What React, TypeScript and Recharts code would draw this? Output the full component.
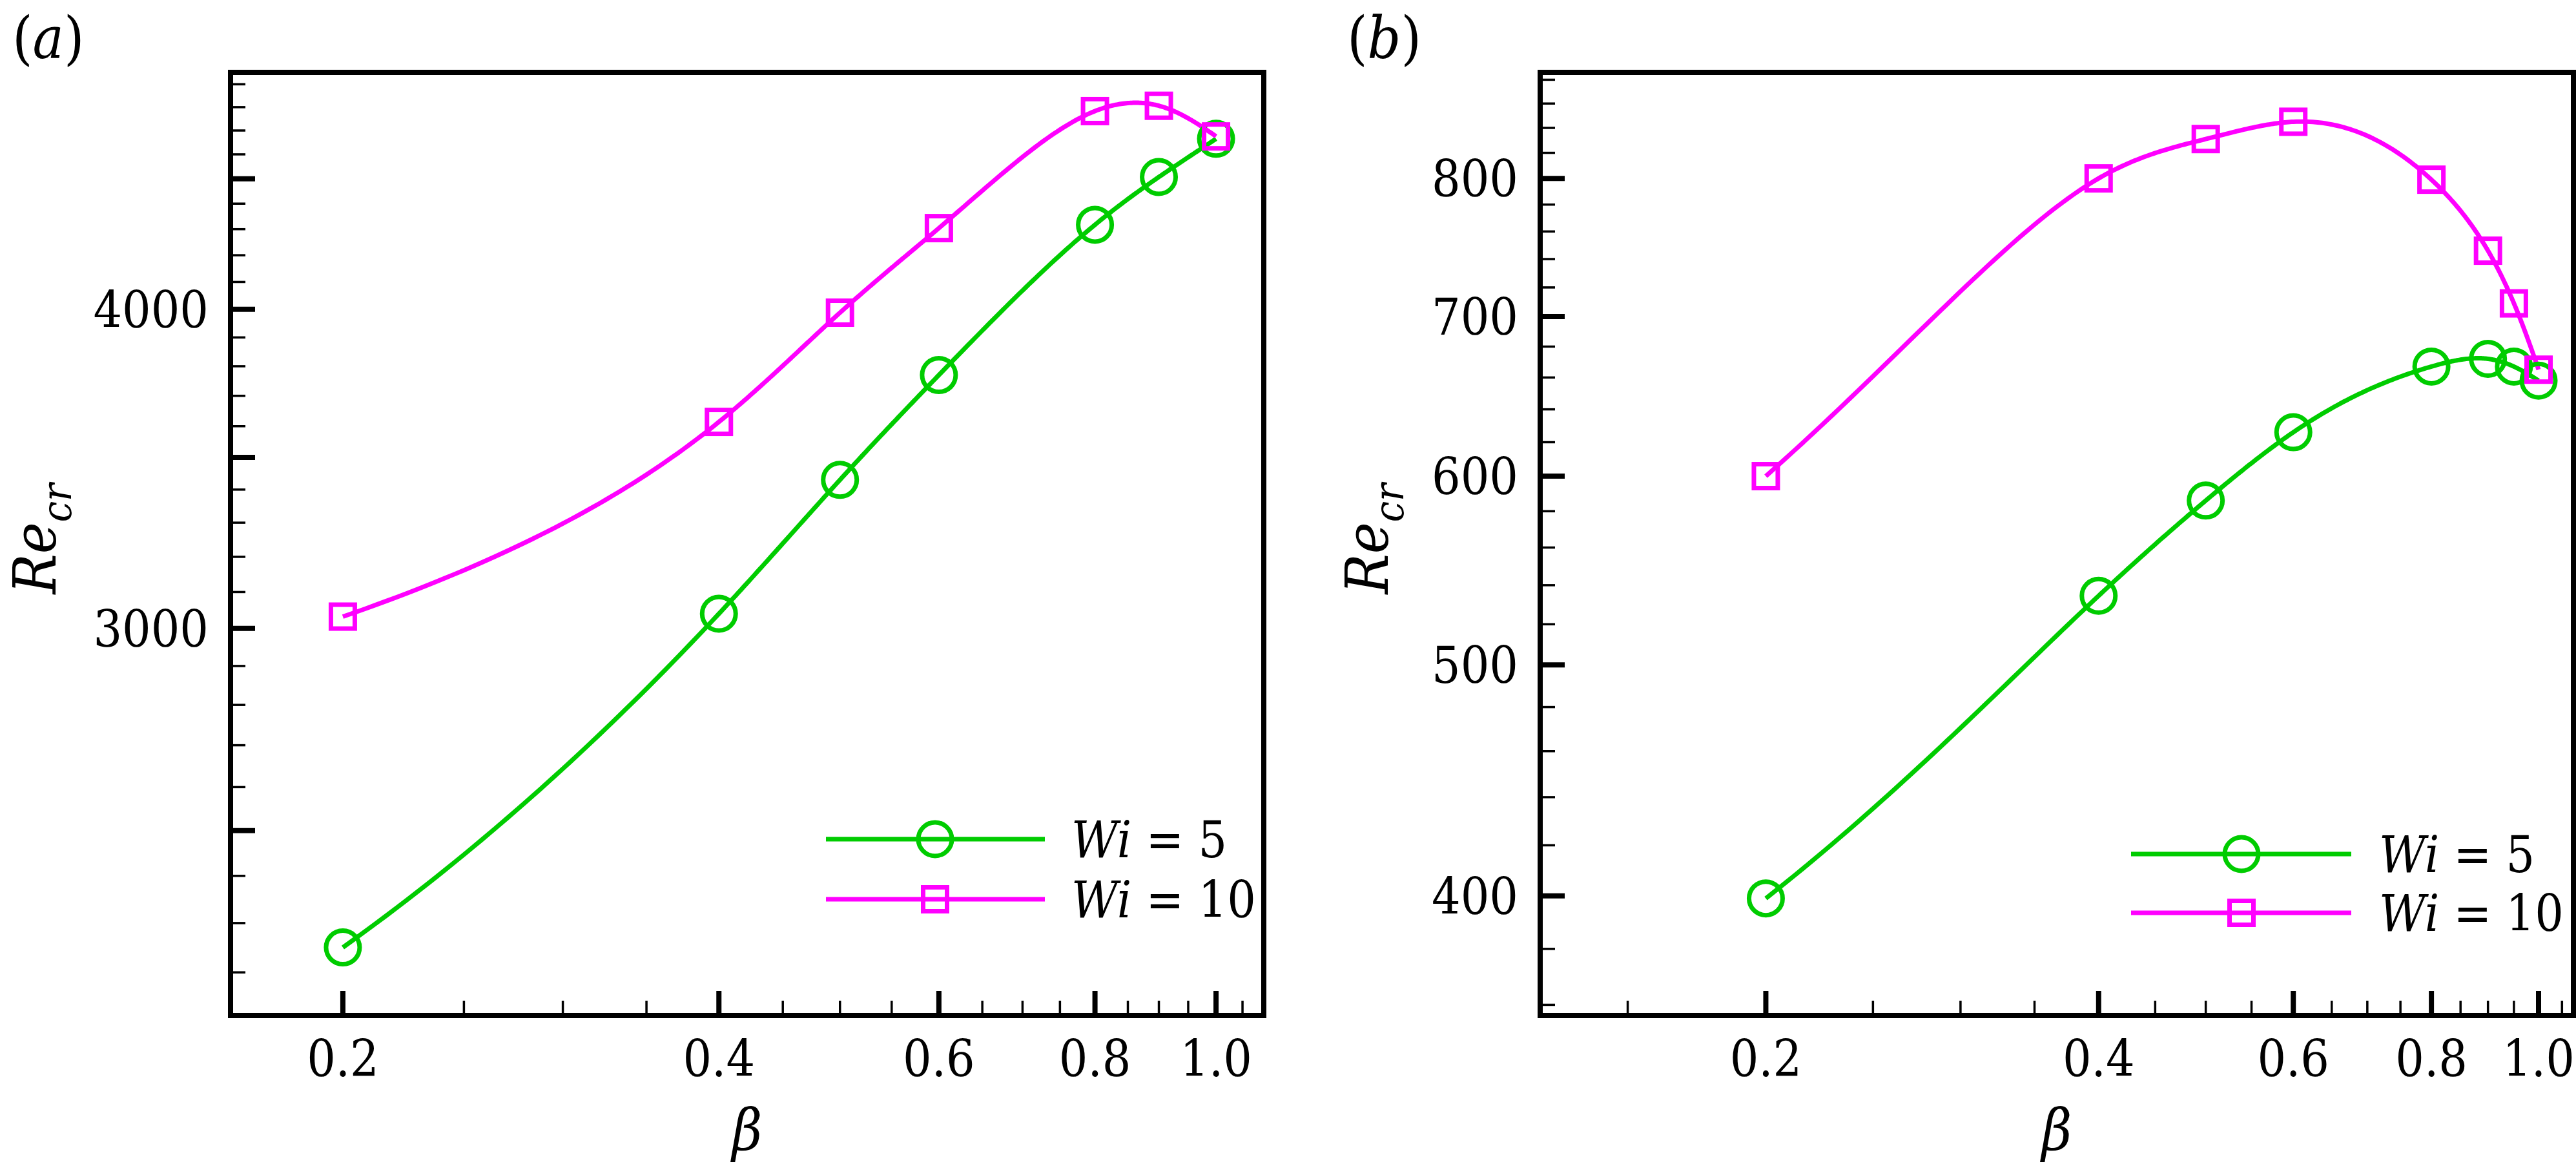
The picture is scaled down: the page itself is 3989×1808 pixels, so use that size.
import { ComposedChart, Line, XAxis, YAxis } from 'recharts'

// (a) Re_cr vs beta
const betaA = [0.2, 0.4, 0.5, 0.6, 0.8, 0.9, 1.0]
const reWi5A = [2250, 3040, 3430, 3770, 4317, 4507, 4665]
const reWi10A = [3032, 3614, 3988, 4304, 4783, 4806, 4675]

// (b) Re_cr vs beta
const betaB = [0.2, 0.4, 0.5, 0.6, 0.8, 0.9, 0.95, 1.0]
const reWi5B = [399, 534.5, 586, 626, 667, 672, 667, 658]
const reWi10B = [600, 800, 831, 845, 799, 746, 709, 665]

// ticks
const betaMajor = [0.2, 0.4, 0.6, 0.8, 1.0]
const betaMinorA = [0.25, 0.3, 0.35, 0.45, 0.5, 0.55, 0.65, 0.7, 0.75, 0.85, 0.9, 0.95, 1.05]
const betaMinorB = [0.15, 0.25, 0.3, 0.35, 0.45, 0.5, 0.55, 0.65, 0.7, 0.75, 0.85, 0.9, 0.95, 1.05]
const reMajorA = [2500, 3000, 3500, 4000, 4500]
const reLabelsA = [3000, 4000]
const reMinorA = [
  2200, 2300, 2400, 2600, 2700, 2800, 2900, 3100, 3200, 3300, 3400, 3600, 3700, 3800, 3900, 4100, 4200,
  4300, 4400, 4600, 4700, 4800, 4900,
]
const reMajorB = [400, 500, 600, 700, 800]
const reLabelsB = [400, 500, 600, 700, 800]
const reMinorB = [
  360, 380, 420, 440, 460, 480, 520, 540, 560, 580, 620, 640, 660, 680, 720, 740, 760, 780, 820, 840, 860, 880,
]

const GREEN = '#00cc00'
const MAGENTA = '#ff00ff'
const H = 1808
// only serif face available here is DejaVu; condensed is closest to Times widths
const TXT = { fontFamily: "'DejaVu Serif Condensed', 'DejaVu Serif', serif", fontStretch: 'condensed' }

const frame = { stroke: '#000', strokeWidth: 8, strokeLinecap: 'square' }

const near = (list: number[], v: number) => list.some((m) => Math.abs(m - v) < 1e-6 * m)

// natural cubic spline taken in linear data units, drawn on the log axes
// (kx, ky = pixels per decade, so pixel -> data is known up to a constant factor)
function splineInData(kx: number, ky: number) {
  return (context: any) => {
    let px: number[] = []
    let py: number[] = []
    return {
      areaStart() {},
      areaEnd() {},
      lineStart() {
        px = []
        py = []
      },
      point(x: number, y: number) {
        px.push(x)
        py.push(y)
      },
      lineEnd() {
        const n = px.length
        if (!n) return
        const X = px.map((v) => Math.pow(10, v / kx))
        const Y = py.map((v) => Math.pow(10, -v / ky))
        const M = new Array(n).fill(0)
        if (n > 2) {
          const a: number[] = [], b: number[] = [], c: number[] = [], d: number[] = []
          for (let i = 1; i < n - 1; i++) {
            const h0 = X[i] - X[i - 1]
            const h1 = X[i + 1] - X[i]
            a.push(h0)
            b.push(2 * (h0 + h1))
            c.push(h1)
            d.push(6 * ((Y[i + 1] - Y[i]) / h1 - (Y[i] - Y[i - 1]) / h0))
          }
          const m = b.length
          for (let i = 1; i < m; i++) {
            const w = a[i] / b[i - 1]
            b[i] -= w * c[i - 1]
            d[i] -= w * d[i - 1]
          }
          const sol = new Array(m).fill(0)
          sol[m - 1] = d[m - 1] / b[m - 1]
          for (let i = m - 2; i >= 0; i--) sol[i] = (d[i] - c[i] * sol[i + 1]) / b[i]
          for (let i = 0; i < m; i++) M[i + 1] = sol[i]
        }
        context.moveTo(px[0], py[0])
        for (let i = 0; i < n - 1; i++) {
          const h = X[i + 1] - X[i]
          const steps = 48
          for (let s = 1; s <= steps; s++) {
            const t = X[i] + (h * s) / steps
            const u = (X[i + 1] - t) / h
            const w = (t - X[i]) / h
            const v = u * Y[i] + w * Y[i + 1] + (((u * u * u - u) * M[i] + (w * w * w - w) * M[i + 1]) * h * h) / 6
            context.lineTo(kx * Math.log10(t), -ky * Math.log10(v))
          }
        }
      },
    }
  }
}

function XTick(props: any) {
  const { x, y, payload } = props
  const v = payload.value
  const major = near(betaMajor, v)
  return (
    <g>
      <line x1={x} y1={y} x2={x} y2={y - (major ? 38 : 23)} stroke="#000" strokeWidth={major ? 8 : 3.5} />
      {major && (
        <text x={x} y={y + 94} textAnchor="middle" style={TXT} fontSize={78} fill="#000">
          {v.toFixed(1)}
        </text>
      )}
    </g>
  )
}

function YTick(props: any) {
  const { x, y, payload, majors, labels } = props
  const v = payload.value
  const major = near(majors, v)
  return (
    <g>
      <line x1={x} y1={y} x2={x + (major ? 38 : 23)} y2={y} stroke="#000" strokeWidth={major ? 8 : 3.5} />
      {near(labels, v) && (
        <text x={x - 34} y={y + 28} textAnchor="end" style={TXT} fontSize={78} fill="#000">
          {v}
        </text>
      )}
    </g>
  )
}

const circleDot = (color: string) => (p: any) =>
  <circle key={`c${p.index}`} cx={p.cx} cy={p.cy} r={26} fill="none" stroke={color} strokeWidth={7} />

const squareDot = (color: string) => (p: any) =>
  <rect key={`s${p.index}`} x={p.cx - 18.5} y={p.cy - 18.5} width={37} height={37} fill="none" stroke={color} strokeWidth={7} />

function Panel(props: any) {
  const { left, width, rows, xDomain, yDomain, xMinor, yMajor, yMinor, yLabels, margin, tag, tagX, titleX, betaX, lg } = props
  const plotW = width - margin.left - margin.right - 2
  const plotH = H - margin.top - margin.bottom - 2
  const curve = splineInData(plotW / Math.log10(xDomain[1] / xDomain[0]), plotH / Math.log10(yDomain[1] / yDomain[0]))
  return (
    <div style={{ position: 'absolute', left, top: 0, width, height: H }}>
      <ComposedChart width={width} height={H} data={rows} margin={margin}>
        <XAxis
          xAxisId="b"
          dataKey="beta"
          type="number"
          scale="log"
          domain={xDomain}
          allowDataOverflow
          ticks={[...betaMajor, ...xMinor]}
          interval={0}
          height={1}
          tickSize={0}
          tickMargin={0}
          tickLine={false}
          axisLine={frame}
          tick={(p: any) => <XTick {...p} />}
        />
        <XAxis xAxisId="t" orientation="top" type="number" scale="log" domain={xDomain} allowDataOverflow ticks={betaMajor} height={1} tick={false} tickLine={false} axisLine={frame} />
        <YAxis
          yAxisId="l"
          type="number"
          scale="log"
          domain={yDomain}
          allowDataOverflow
          ticks={[...yMajor, ...yMinor]}
          interval={0}
          width={1}
          tickSize={0}
          tickMargin={0}
          tickLine={false}
          axisLine={frame}
          tick={(p: any) => <YTick {...p} majors={yMajor} labels={yLabels} />}
        />
        <YAxis yAxisId="r" orientation="right" type="number" scale="log" domain={yDomain} allowDataOverflow ticks={yMajor} width={1} tick={false} tickLine={false} axisLine={frame} />
        <Line xAxisId="b" yAxisId="l" dataKey="wi5" type={curve} stroke={GREEN} strokeWidth={7} dot={circleDot(GREEN)} activeDot={false} isAnimationActive={false} />
        <Line xAxisId="b" yAxisId="l" dataKey="wi10" type={curve} stroke={MAGENTA} strokeWidth={7} dot={squareDot(MAGENTA)} activeDot={false} isAnimationActive={false} />
      </ComposedChart>
      <svg width={width} height={H} style={{ position: 'absolute', left: 0, top: 0, pointerEvents: 'none' }}>
        <text x={tagX} y={90} style={TXT} fontSize={90} fill="#000">
          (<tspan fontStyle="italic">{tag}</tspan>)
        </text>
        <text x={titleX} y={834} transform={`rotate(-90 ${titleX} 834)`} textAnchor="middle" style={TXT} fontSize={92} fontStyle="italic" fill="#000">
          Re<tspan fontSize={64} dy={24}>cr</tspan>
        </text>
        <text x={betaX} y={1780} textAnchor="middle" style={TXT} fontSize={90} fontStyle="italic" fill="#000">
          β
        </text>
        {[
          { y: lg.y1, color: GREEN, label: '5', circle: true },
          { y: lg.y2, color: MAGENTA, label: '10', circle: false },
        ].map((e) => (
          <g key={e.label}>
            <line x1={lg.x1} y1={e.y} x2={lg.x2} y2={e.y} stroke={e.color} strokeWidth={7} />
            {e.circle ? (
              <circle cx={lg.mx} cy={e.y} r={26} fill="none" stroke={e.color} strokeWidth={7} />
            ) : (
              <rect x={lg.mx - 18.5} y={e.y - 18.5} width={37} height={37} fill="none" stroke={e.color} strokeWidth={7} />
            )}
            <text x={lg.tx} y={e.y + 28} style={TXT} fontSize={78} fill="#000">
              <tspan fontStyle="italic">Wi</tspan>
              {' = ' + e.label}
            </text>
          </g>
        ))}
      </svg>
    </div>
  )
}

export default function App() {
  const rowsA = betaA.map((b, i) => ({ beta: b, wi5: reWi5A[i], wi10: reWi10A[i] }))
  const rowsB = betaB.map((b, i) => ({ beta: b, wi5: reWi5B[i], wi10: reWi10B[i] }))
  return (
    <div style={{ position: 'absolute', left: 0, top: 0, width: 3989, height: H, background: '#fff', overflow: 'hidden' }}>
      <Panel
        left={0}
        width={2000}
        rows={rowsA}
        xDomain={[0.1626, 1.092]}
        yDomain={[2116, 4953]}
        xMinor={betaMinorA}
        yMajor={reMajorA}
        yMinor={reMinorA}
        yLabels={reLabelsA}
        margin={{ top: 111, left: 356, right: 42, bottom: 235 }}
        tag="a"
        tagX={19}
        titleX={86}
        betaX={1157}
        lg={{ x1: 1279, x2: 1618, mx: 1448, y1: 1299, y2: 1392, tx: 1659 }}
      />
      <Panel
        left={2000}
        width={1989}
        rows={rowsB}
        xDomain={[0.125, 1.0753]}
        yDomain={[356.3, 886.3]}
        xMinor={betaMinorB}
        yMajor={reMajorB}
        yMinor={reMinorB}
        yLabels={reLabelsB}
        margin={{ top: 111, left: 384, right: 3, bottom: 235 }}
        tag="b"
        tagX={86}
        titleX={149}
        betaX={1185}
        lg={{ x1: 1300, x2: 1641, mx: 1471, y1: 1322, y2: 1413, tx: 1684 }}
      />
    </div>
  )
}
